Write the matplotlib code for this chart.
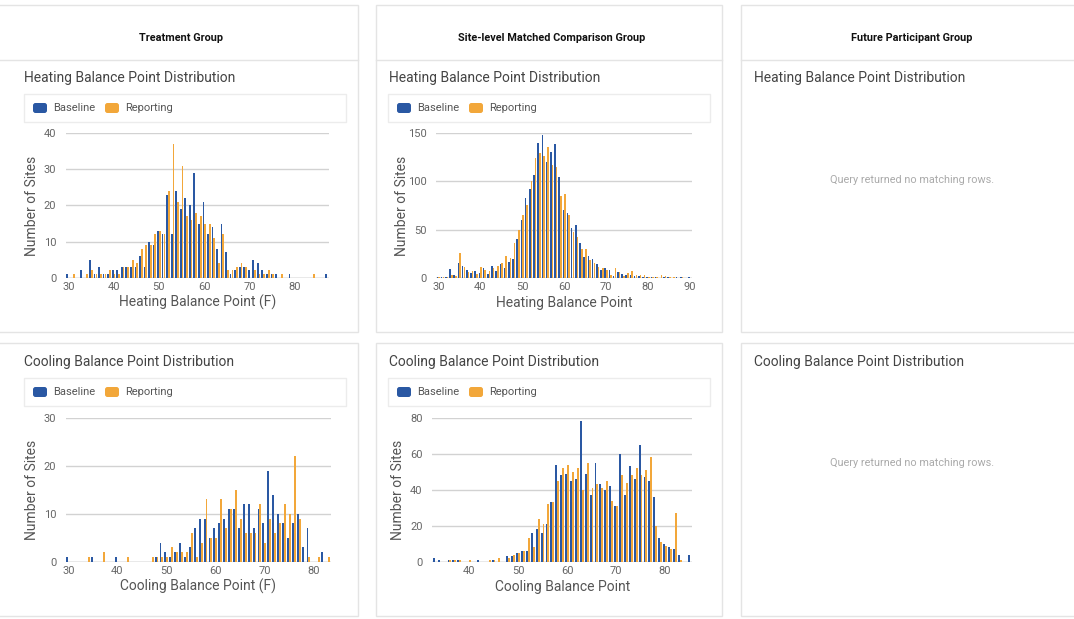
import matplotlib.pyplot as plt
from matplotlib.patches import Rectangle, FancyBboxPatch
import numpy as np

plt.rcParams['font.family'] = ['Roboto', 'DejaVu Sans']

W, H = 1074, 619
BLUE = '#2a58a3'
ORANGE = '#f2a73a'

# ---- data (sites per 1 degree bin) ----
treat_heat_bins = list(range(30, 88))
treat_heat_base = [1, 0, 0, 2, 0, 5, 1, 3, 1, 1, 2, 2, 3, 3, 3, 3, 6, 3, 10, 9,
                   13, 12, 23, 12, 24, 19, 22, 20, 29, 15, 21, 12, 14, 8, 15, 7, 1, 2, 3, 3,
                   2, 5, 4, 2, 1, 1, 1, 0, 0, 1, 0, 0, 0, 0, 0, 0, 0, 1]
treat_heat_rep = [0, 1, 0, 0, 1, 2, 1, 1, 1, 2, 1, 1, 3, 3, 5, 4, 8, 9, 9, 12,
                  13, 12, 24, 37, 21, 31, 17, 16, 18, 17, 15, 15, 11, 4, 12, 2, 2, 3, 4, 3,
                  0, 2, 1, 1, 2, 1, 0, 1, 0, 0, 0, 0, 0, 0, 1, 0, 0, 0]

comp_heat_bins = list(range(30, 91))
comp_heat_base = [1, 1, 1, 9, 3, 15, 12, 8, 5, 7, 5, 10, 4, 12, 7, 14, 10, 16, 19, 40,
                  60, 83, 92, 107, 140, 148, 120, 131, 139, 105, 70, 67, 52, 55, 36, 22, 23, 19, 14, 8,
                  10, 8, 2, 6, 4, 3, 3, 2, 2, 1, 1, 1, 1, 0, 1, 1, 0, 1, 1, 0, 1]
comp_heat_rep = [1, 1, 1, 3, 2, 26, 11, 6, 7, 4, 11, 8, 7, 10, 12, 15, 23, 20, 36, 50,
                 65, 75, 100, 124, 130, 126, 136, 117, 115, 85, 87, 65, 47, 42, 30, 30, 18, 15, 11, 10,
                 8, 3, 10, 6, 2, 5, 7, 3, 3, 3, 1, 1, 1, 3, 2, 1, 1, 0, 1, 0, 0]

treat_cool_bins = list(range(30, 84))
treat_cool_base = [1, 0, 0, 0, 0, 1, 0, 0, 0, 0, 1, 0, 0, 0, 0, 0, 0, 0, 1, 4,
                   2, 1, 2, 4, 1, 3, 7, 9, 9, 5, 7, 8, 9, 11, 11, 7, 12, 12, 7, 11,
                   8, 19, 14, 10, 8, 5, 8, 10, 3, 7, 0, 0, 2, 0]
treat_cool_rep = [0, 0, 0, 0, 1, 0, 0, 2, 0, 0, 0, 0, 1, 0, 0, 0, 0, 1, 1, 1,
                  1, 3, 2, 2, 2, 6, 1, 4, 13, 5, 5, 13, 7, 11, 15, 9, 6, 6, 6, 12,
                  4, 9, 6, 8, 12, 10, 22, 9, 0, 1, 0, 1, 0, 1]

comp_cool_bins = list(range(33, 86))
comp_cool_base = [2, 1, 0, 1, 1, 1, 0, 0, 0, 1, 0, 0, 1, 0, 0, 3, 3, 5, 6, 6,
                  16, 18, 16, 21, 33, 54, 48, 49, 45, 46, 78, 49, 37, 55, 43, 40, 42, 31, 60, 37,
                  53, 46, 65, 47, 45, 36, 13, 10, 8, 7, 4, 0, 4]
comp_cool_rep = [0, 0, 0, 1, 1, 1, 0, 1, 0, 0, 0, 1, 1, 2, 0, 2, 4, 5, 6, 13,
                 8, 24, 21, 32, 33, 45, 52, 54, 50, 52, 40, 55, 41, 43, 41, 45, 34, 31, 48, 44,
                 48, 52, 48, 51, 58, 20, 11, 9, 7, 27, 1, 0, 0]

group_titles = ['Treatment Group', 'Site-level Matched Comparison Group', 'Future Participant Group']

fig = plt.figure(figsize=(W / 100, H / 100), dpi=100)
bg = fig.add_axes([0, 0, 1, 1])
bg.set_xlim(0, W)
bg.set_ylim(H, 0)
bg.axis('off')

cols = [(-2, 358), (376, 722), (741, 1077)]
for i, (x0, x1) in enumerate(cols):
    # top card with header, bottom card
    bg.add_patch(Rectangle((x0, 5), x1 - x0, 327, fc='white', ec='#e4e4e4', lw=1))
    bg.plot([x0, x1], [60, 60], color='#e4e4e4', lw=1)
    bg.add_patch(Rectangle((x0, 343), x1 - x0, 273, fc='white', ec='#e4e4e4', lw=1))
    bg.text((x0 + x1) / 2 + 3, 38, group_titles[i], ha='center', va='center',
            fontsize=7.8, fontweight='bold', color='#111111')
    bg.text(x0 + 26 if i == 0 else x0 + 13, 78, 'Heating Balance Point Distribution',
            ha='left', va='center', fontsize=10, color='#444444')
    bg.text(x0 + 26 if i == 0 else x0 + 13, 362, 'Cooling Balance Point Distribution',
            ha='left', va='center', fontsize=10, color='#444444')

for y in (180, 463):
    bg.text(912, y, 'Query returned no matching rows.', ha='center', va='center',
            fontsize=7.8, color='#aaaaaa')


def legend(x0, x1, y0):
    bg.add_patch(Rectangle((x0, y0), x1 - x0, 28, fc='white', ec='#ececec', lw=1))
    bg.add_patch(FancyBboxPatch((x0 + 9, y0 + 9), 14, 10, boxstyle='round,pad=0,rounding_size=2.5',
                                fc=BLUE, ec='none'))
    bg.text(x0 + 29, y0 + 14, 'Baseline', ha='left', va='center', fontsize=8, color='#555555')
    bg.add_patch(FancyBboxPatch((x0 + 81, y0 + 9), 14, 10, boxstyle='round,pad=0,rounding_size=2.5',
                                fc=ORANGE, ec='none'))
    bg.text(x0 + 101, y0 + 14, 'Reporting', ha='left', va='center', fontsize=8, color='#555555')


def chart(px0, px1, py0, py1, bins, base, rep, xlim, ymax, yticks, xticks, xlabel):
    ax = fig.add_axes([px0 / W, 1 - py1 / H, (px1 - px0) / W, (py1 - py0) / H])
    b = np.array(bins)
    ax.bar(b - 0.2, base, width=0.38, color=BLUE, zorder=3)
    ax.bar(b + 0.2, rep, width=0.38, color=ORANGE, zorder=3)
    ax.set_xlim(*xlim)
    ax.set_ylim(0, ymax)
    ax.set_yticks(yticks)
    ax.set_xticks(xticks)
    ax.yaxis.grid(True, color='#d2d2d2', lw=1, zorder=0)
    ax.axhline(0, color='#b8b8b8', lw=1, zorder=2)
    for s in ax.spines.values():
        s.set_visible(False)
    ax.tick_params(length=0, labelsize=8, labelcolor='#666666')
    ax.tick_params(axis='y', pad=7)
    ax.tick_params(axis='x', pad=3)
    ax.patch.set_alpha(0)
    cx = (px0 + px1) / 2
    bg.text(cx, py1 + 25, xlabel, ha='center', va='center', fontsize=10, color='#555555')
    bg.text(px0 - 34, (py0 + py1) / 2, 'Number of Sites', ha='center', va='center',
            rotation=90, fontsize=10, color='#555555')
    return ax


legend(24, 346, 94)
legend(388, 710, 94)
legend(24, 346, 378)
legend(388, 710, 378)

chart(66.0, 329.0, 133.3, 277.7, treat_heat_bins, treat_heat_base, treat_heat_rep,
      (29.5, 87.5), 40, [0, 10, 20, 30, 40], [30, 40, 50, 60, 70, 80], 'Heating Balance Point (F)')
chart(436.2, 692.1, 133.3, 277.7, comp_heat_bins, comp_heat_base, comp_heat_rep,
      (29.5, 90.5), 150, [0, 50, 100, 150], [30, 40, 50, 60, 70, 80, 90], 'Heating Balance Point')
chart(65.9, 330.5, 417.7, 561.7, treat_cool_bins, treat_cool_base, treat_cool_rep,
      (29.5, 83.5), 30, [0, 10, 20, 30], [30, 40, 50, 60, 70, 80], 'Cooling Balance Point (F)')
chart(432.3, 692.0, 417.7, 561.7, comp_cool_bins, comp_cool_base, comp_cool_rep,
      (32.5, 85.5), 80, [0, 20, 40, 60, 80], [40, 50, 60, 70, 80], 'Cooling Balance Point')

fig.savefig('out.png', dpi=100)
